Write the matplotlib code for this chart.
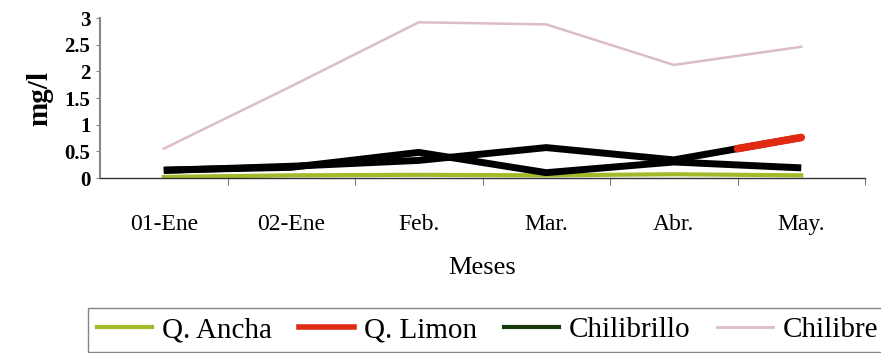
import numpy as np
import matplotlib
matplotlib.use("Agg")
import matplotlib.pyplot as plt
from matplotlib.lines import Line2D

# data (mg/l per month)
meses = ["01-Ene", "02-Ene", "Feb.", "Mar.", "Abr.", "May."]
q_ancha = [0.02, 0.05, 0.06, 0.05, 0.07, 0.05]
q_limon = [0.14, 0.22, 0.33, 0.57, 0.34, 0.76]
chilibrillo = [0.15, 0.20, 0.48, 0.10, 0.30, 0.19]
chilibre = [0.55, 1.72, 2.92, 2.88, 2.12, 2.46]

c_ancha = "#a4b82a"
c_limon = "#e02a12"
c_chilibrillo = "#163a0c"
c_chilibre = "#dcbccc"

plt.rcParams['font.family'] = ['Liberation Serif', 'DejaVu Serif']

fig = plt.figure(figsize=(8.81, 3.53), dpi=100)
ax = fig.add_axes([100/881, 1-178/353, 765/881, 160/353])

x = np.arange(len(meses))
ax.plot(x, chilibre, color=c_chilibre, lw=1.8)
ax.plot(x, q_ancha, color=c_ancha, lw=3)
# the print shows these two series mostly in black
ax.plot(x, chilibrillo, color="black", lw=5, solid_capstyle="butt")
ax.plot(x, q_limon, color="black", lw=5, solid_capstyle="butt")
# red only shows on the second half of the last segment
mid_x = (x[4] + x[5]) / 2
mid_y = (q_limon[4] + q_limon[5]) / 2
ax.plot([mid_x, x[5]], [mid_y, q_limon[5]], color=c_limon, lw=5.5, solid_capstyle="round")
ax.plot(x[:1], chilibrillo[:1], color=c_chilibrillo, lw=8)

ax.set_xlim(-0.5, 5.5)
ax.set_ylim(0, 3)
ax.set_yticks([0, 0.5, 1, 1.5, 2, 2.5, 3])
ax.set_yticklabels(["0", "0.5", "1", "1.5", "2", "2.5", "3"], fontsize=15, fontweight="bold")
ax.set_xticks(x)
ax.set_xticklabels(meses, fontsize=17)
ax.set_xticks(np.arange(-0.5, 6, 1)[1:], minor=True)
ax.tick_params(axis="x", which="major", length=0, pad=26)
ax.tick_params(axis="x", which="minor", length=5, color="#555555")
ax.tick_params(axis="y", length=3, color="#888888", pad=4)

for s in ["top", "right"]:
    ax.spines[s].set_visible(False)
ax.spines["left"].set_color("#888888")
ax.spines["left"].set_linewidth(1.5)
ax.spines["bottom"].set_color("#333333")
ax.spines["bottom"].set_linewidth(1)

ax.set_ylabel("mg/l", fontsize=21, fontweight="bold", labelpad=8)
ax.set_xlabel("Meses", fontsize=19, labelpad=16)

handles = [
    Line2D([], [], color=c_ancha, lw=3),
    Line2D([], [], color=c_limon, lw=4),
    Line2D([], [], color=c_chilibrillo, lw=3),
    Line2D([], [], color=c_chilibre, lw=2),
]
labels = ["Q. Ancha", "Q. Limon", "Chilibrillo", "Chilibre"]
leg = fig.legend(handles, labels, loc="upper left", bbox_to_anchor=(88/881, 1-308/353),
                 ncol=4, fontsize=21, frameon=True, fancybox=False,
                 handlelength=1.9, handletextpad=0.35, columnspacing=0.9,
                 borderaxespad=0, borderpad=0.3)
leg.get_frame().set_edgecolor("#666666")
leg.get_frame().set_linewidth(1)

fig.savefig("out.png", dpi=100)
